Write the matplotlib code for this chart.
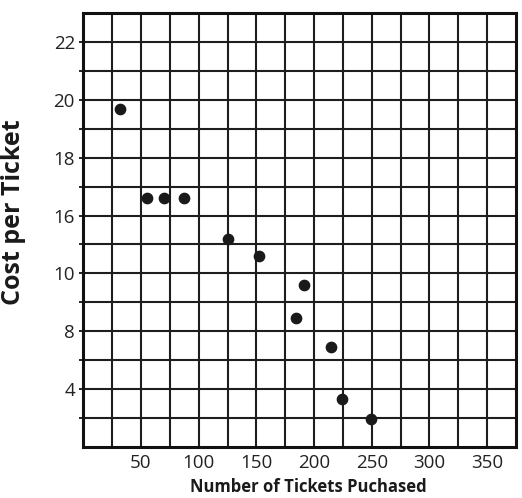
import numpy as np
import matplotlib
matplotlib.use("Agg")
import matplotlib.pyplot as plt

# Number of tickets purchased (x) and cost per ticket read as grid rows (y)
tickets = [32, 55, 70, 87, 125, 152, 191, 184, 215, 224, 249]
cost_rows = [11.7, 8.6, 8.6, 8.6, 7.2, 6.6, 5.6, 4.45, 3.45, 1.65, 0.95]

x_ticks = [50, 100, 150, 200, 250, 300, 350]
y_tick_rows = [2, 4, 6, 8, 10, 12, 14]
y_tick_labels = ["4", "8", "10", "16", "18", "20", "22"]

plt.rcParams['font.family'] = ['Open Sans', 'DejaVu Sans']

fig = plt.figure(figsize=(5.22, 4.98), dpi=100)
ax = fig.add_axes([83.3 / 522, 1 - 446.7 / 498, (516 - 83.3) / 522, (446.7 - 13.3) / 498])

ax.set_xlim(0, 375)
ax.set_ylim(0, 15)

# grid every 25 tickets and every row
for gx in np.arange(25, 375, 25):
    ax.axvline(gx, color='#1e1e1e', lw=1.5, zorder=1)
for gy in range(1, 15):
    ax.axhline(gy, color='#1e1e1e', lw=1.5, zorder=1)

ax.scatter(tickets, cost_rows, s=55, color='#1a1a1a', zorder=3)

ax.set_xticks(x_ticks)
ax.set_xticklabels([str(t) for t in x_ticks], fontsize=13.5, color='#222222')
ax.set_yticks(y_tick_rows)
ax.set_yticklabels(y_tick_labels, fontsize=13.5, color='#222222')
ax.set_yticks(range(1, 15), minor=True)
ax.tick_params(axis='x', length=0, pad=5)
ax.tick_params(axis='y', which='both', length=3, width=1.2, pad=3, direction='out')

for side in ax.spines.values():
    side.set_linewidth(2.2)
    side.set_color('#111111')

fig.text(308 / 522, 1 - 487 / 498, "Number of Tickets Puchased", fontsize=12,
         fontweight='bold', ha='center', va='center', color='#1a1a1a')
fig.text(14 / 522, 1 - 212 / 498, "Cost per Ticket", fontsize=18,
         fontweight='bold', rotation=90, ha='center', va='center', color='#1a1a1a')

fig.savefig("out.png", dpi=100)
